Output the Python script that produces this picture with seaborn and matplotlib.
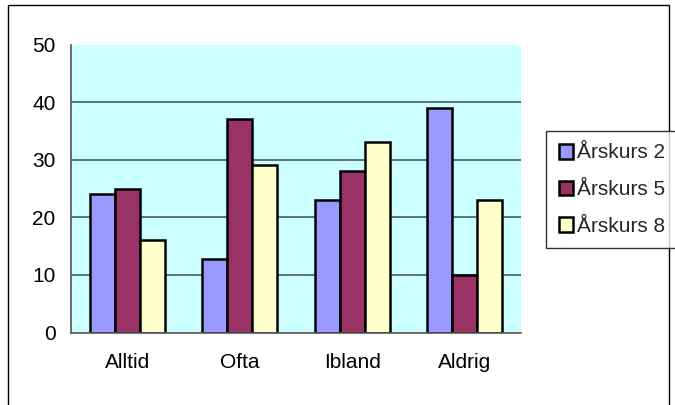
import matplotlib
matplotlib.use("Agg")
import matplotlib.pyplot as plt
from matplotlib.patches import Rectangle
import seaborn as sns
import pandas as pd

categories = ["Alltid", "Ofta", "Ibland", "Aldrig"]
series_names = ["Årskurs 2", "Årskurs 5", "Årskurs 8"]
arskurs2 = [24, 12.8, 23, 39]
arskurs5 = [25, 37, 28, 10]
arskurs8 = [16, 29, 33, 23]
yticks = [0, 10, 20, 30, 40, 50]

colors = ["#9999FF", "#993366", "#FFFFCC"]

rows = []
for name, vals in zip(series_names, [arskurs2, arskurs5, arskurs8]):
    for c, v in zip(categories, vals):
        rows.append({"cat": c, "series": name, "value": v})
df = pd.DataFrame(rows)

sns.set_theme(style="white")
plt.rcParams["font.family"] = ["Liberation Sans", "DejaVu Sans"]

FS = 15

fig = plt.figure(figsize=(6.75, 4.05), dpi=100)
ax = fig.add_axes([71 / 675, 1 - 332.5 / 405, 450 / 675, 288 / 405])
ax.set_facecolor("#CCFFFF")

sns.barplot(data=df, x="cat", y="value", hue="series", order=categories,
            hue_order=series_names, palette=colors, width=0.667,
            edgecolor="black", linewidth=1.8, saturation=1, ax=ax,
            legend=True, errorbar=None)

ax.set_ylim(0, 50)
ax.set_xlim(-0.5, 3.5)
ax.set_yticks(yticks)
ax.set_yticklabels([str(t) for t in yticks])
for t in yticks[1:-1]:
    ax.axhline(t, color="#5F7373", lw=1.4, zorder=0.5)
ax.set_axisbelow(True)

ax.set_xlabel("")
ax.set_ylabel("")
for s in ["top", "right"]:
    ax.spines[s].set_visible(False)
for s in ["left", "bottom"]:
    ax.spines[s].set_color("#555555")
    ax.spines[s].set_linewidth(1.2)

ax.set_xticks([-0.5, 0.5, 1.5, 2.5, 3.5], minor=True)
ax.tick_params(axis="x", which="major", length=0, pad=15, labelsize=FS, colors="black")
ax.tick_params(axis="x", which="minor", length=5, width=1, color="#555555", direction="out")
ax.tick_params(axis="y", which="major", length=5, width=1, color="#555555", direction="out",
               pad=6, labelsize=FS, labelcolor="black")
ax.tick_params(axis="x", labelcolor="black")

handles, labels = ax.get_legend_handles_labels()
ax.get_legend().remove()
leg = fig.legend(handles, labels, loc="upper left",
                 bbox_to_anchor=(546 / 675, 1 - 131 / 405), borderaxespad=0,
                 fontsize=FS, frameon=True, fancybox=False, shadow=False,
                 handlelength=0.7, handleheight=0.7, handletextpad=0.2,
                 labelspacing=0.85, borderpad=0.6)
leg.get_frame().set_edgecolor("black")
leg.get_frame().set_linewidth(1.0)

fig.patches.append(Rectangle((8 / 675, -0.1), 661 / 675, 1.1 - 5 / 405,
                             transform=fig.transFigure, fill=False,
                             edgecolor="black", lw=1.0))

fig.savefig("out.png", dpi=100)
